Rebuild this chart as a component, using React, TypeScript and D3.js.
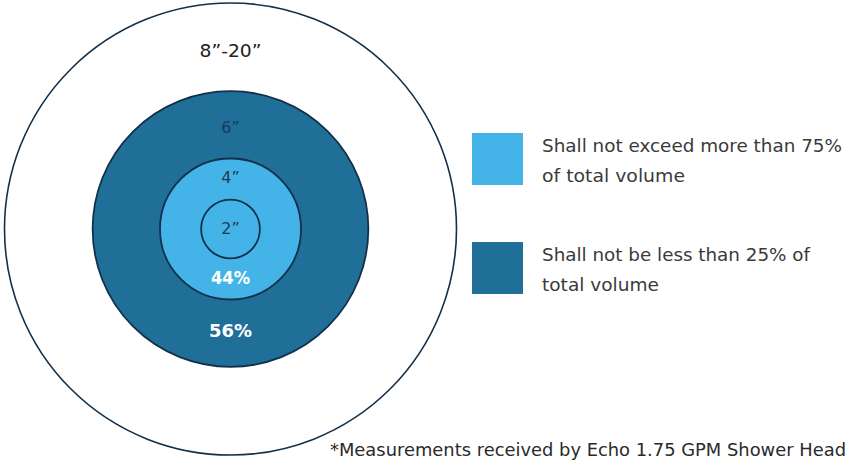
import React from "react";
import * as d3 from "d3";

const ringLabels = ["2”", "4”", "6”", "8”-20”"];
const ringRelRadius = [0.13, 0.312, 0.61, 1.0];
const ringFills = ["#44b4e8", "#44b4e8", "#1f6f99", "#ffffff"];
const sharePercents = ["44%", "56%"];
const legendColors = ["#44b4e8", "#1f6f99"];
const legendLines = [
  ["Shall not exceed more than 75%", "of total volume"],
  ["Shall not be less than 25% of", "total volume"],
];
const footnote = "*Measurements received by Echo 1.75 GPM Shower Head";

const W = 849;
const H = 460;
const FONT = "'DejaVu Sans', 'Open Sans', sans-serif";

export default function App() {
  const cx = 230.5;
  const cy = 229;
  const r = d3.scaleLinear().domain([0, 1]).range([0, 226]);
  const order = d3.range(ringLabels.length).reverse();
  const stroke = "#13304a";
  const labelColor = "#1d3a55";

  const labelY = [cy + 5, cy - r(ringRelRadius[1]) + 25, cy - r(ringRelRadius[2]) + 42, cy - r(ringRelRadius[3]) + 54];
  const labelW = [null, null, null, 62];

  return (
    <svg width={W} height={H} style={{ position: "absolute", left: 0, top: 0 }}>
      <rect width={W} height={H} fill="#ffffff" />
      {order.map((i) => (
        <circle
          key={i}
          cx={cx}
          cy={cy}
          r={r(ringRelRadius[i])}
          fill={ringFills[i]}
          stroke={stroke}
          strokeWidth={i === 3 ? 1.6 : 1.8}
        />
      ))}
      {ringLabels.map((t, i) => (
        <text
          key={t}
          x={cx}
          y={labelY[i]}
          textAnchor="middle"
          fontFamily={FONT}
          fontSize={i === 3 ? 17 : 16}
          fill={i === 3 ? "#222" : labelColor}
          {...(labelW[i] ? { textLength: labelW[i], lengthAdjust: "spacingAndGlyphs" } : {})}
        >
          {t}
        </text>
      ))}
      <text x={cx} y={284} textAnchor="middle" fontFamily={FONT} fontWeight={700} fontSize={17}
        fill="#fff" textLength={39} lengthAdjust="spacingAndGlyphs">
        {sharePercents[0]}
      </text>
      <text x={cx} y={337} textAnchor="middle" fontFamily={FONT} fontWeight={700} fontSize={18}
        fill="#fff" textLength={43} lengthAdjust="spacingAndGlyphs">
        {sharePercents[1]}
      </text>
      {legendColors.map((c, i) => {
        const top = 133 + i * 109;
        const widths = i === 0 ? [300, 143] : [268, 117];
        return (
          <g key={c}>
            <rect x={472} y={top} width={51} height={52} fill={c} />
            {legendLines[i].map((ln, j) => (
              <text
                key={j}
                x={542}
                y={top + 19 + j * 29.5}
                fontFamily={FONT}
                fontSize={17}
                fill="#3a3a3a"
                textLength={widths[j]}
                lengthAdjust="spacingAndGlyphs"
              >
                {ln}
              </text>
            ))}
          </g>
        );
      })}
      <text x={330} y={456} fontFamily={FONT} fontSize={17} fill="#2a2a2a"
        textLength={516} lengthAdjust="spacingAndGlyphs">
        {footnote}
      </text>
    </svg>
  );
}
